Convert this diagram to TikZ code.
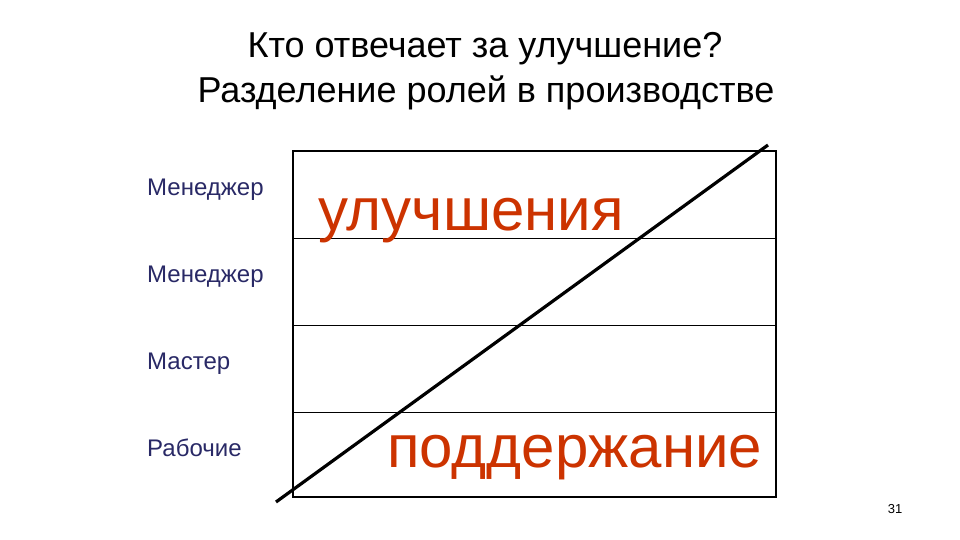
\documentclass[tikz,border=0pt]{standalone}
\usepackage{fontspec}
\setmainfont{Liberation Sans}
\definecolor{navy}{RGB}{41,41,102}
\definecolor{redor}{RGB}{204,51,0}
\begin{document}
\begin{tikzpicture}[x=1pt,y=-1pt,
  title/.style={font=\fontsize{36}{45}\selectfont, align=center, inner sep=0pt},
  role/.style={font=\fontsize{24}{26}\selectfont, text=navy, anchor=base west, inner sep=0pt},
  big/.style={font=\fontsize{60}{70}\selectfont, text=redor, anchor=base west, inner sep=0pt},
  frame/.style={draw=black, line width=2pt},
  divider/.style={draw=black, line width=0.9pt},
  diag/.style={draw=black, line width=3.2pt}]
\useasboundingbox[fill=white] (0,0) rectangle (960,540);
\node[title, anchor=base] (t1) at (485,58) {Кто отвечает за улучшение?};
\node[title, anchor=base] (t2) at (486,103) {Разделение ролей в производстве};
\coordinate (bl) at (293,497);
\coordinate (tr) at (776,151);
\draw[divider] (293,238) coordinate (d1l) -- (776,238) coordinate (d1r);
\draw[divider] (293,325) coordinate (d2l) -- (776,325) coordinate (d2r);
\draw[divider] (293,412) coordinate (d3l) -- (776,412) coordinate (d3r);
\draw[frame] (bl) rectangle (tr);
\node[role] (r1) at (147,195) {Менеджер};
\node[role] (r2) at (147,282) {Менеджер};
\node[role] (r3) at (147,369) {Мастер};
\node[role] (r4) at (147,456) {Рабочие};
\node[big] (up) at (318,230) {улучшения};
\node[big] (down) at (387,467) {поддержание};
\coordinate (ds) at (276,502);
\coordinate (de) at (768,145);
\draw[diag] (ds) -- (de);
\node[font=\fontsize{13}{15}\selectfont, anchor=base, inner sep=0pt] (pg) at (895,513) {31};
\end{tikzpicture}
\end{document}
